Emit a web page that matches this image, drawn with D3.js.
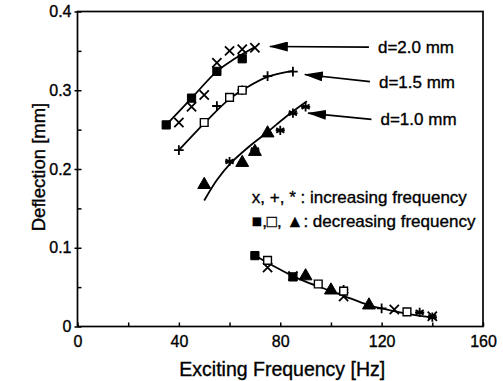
<!DOCTYPE html>
<html>
  <head>
    <meta charset="utf-8">
    <script src="https://d3js.org/d3.v7.min.js"></script>
    <title>Deflection vs Exciting Frequency</title>
    <style>
      body { margin: 0px; background: #fff; }
      text { font-family: "Liberation Sans", Arial, sans-serif; fill: #000; stroke: #000; stroke-width: 0.35px; }
    </style>
  </head>
  <body>
    <svg width="503" height="381"></svg>
    <script>
      // measured points [frequency Hz, deflection mm]
      const crosses = [[40, 0.259], [45, 0.279], [50, 0.294], [55, 0.335], [60, 0.350], [65, 0.352], [70, 0.354],
                       [75, 0.075], [85, 0.064], [105, 0.038], [125, 0.0215], [140, 0.013]];
      const pluses = [[40, 0.224], [55, 0.280], [65, 0.300], [75, 0.318], [85, 0.3236], [120, 0.023]];
      const stars = [[60, 0.2095], [70, 0.224], [80, 0.249], [85, 0.271], [90, 0.279],
                     [105, 0.047], [135, 0.018], [140, 0.012]];
      const filledSquares = [[35, 0.256], [45, 0.290], [55, 0.324], [65, 0.340], [70, 0.090], [85, 0.063]];
      const openSquares = [[50, 0.259], [60, 0.291], [65, 0.300], [75, 0.084], [95, 0.054], [105, 0.045], [130, 0.0186]];
      const triangles = [[50, 0.180], [65, 0.208], [70, 0.222], [75, 0.2455], [90, 0.064], [100, 0.046], [115, 0.027]];

      // fitted curves
      const fit20 = [[35, 0.256], [45, 0.290], [55, 0.324], [62, 0.340], [70, 0.355]];
      const fit15 = [[40, 0.224], [50, 0.258], [60, 0.289], [67, 0.304], [75, 0.317], [85, 0.3245]];
      const fit10 = [[50, 0.160], [55, 0.186], [60, 0.206], [67.5, 0.228], [75, 0.247], [82.5, 0.267], [90.5, 0.286]];
      const fitLow = [[69, 0.092], [75, 0.081], [85, 0.064], [90, 0.057], [100, 0.045], [105, 0.039],
                      [115, 0.027], [120, 0.023], [130, 0.016], [141, 0.011]];

      // arrow annotations: label, tail [f, d], tip [f, d]
      const arrowLabels = ['d=2.0 mm', 'd=1.5 mm', 'd=1.0 mm'];
      const arrowTails = [[115, 0.3547], [115.4, 0.311], [116, 0.263]];
      const arrowTips = [[75.9, 0.3556], [89.7, 0.320], [91, 0.271]];

      const legendLines = ['x, +, * : increasing frequency', '\u25A0,\u25A1, \u25B2: decreasing frequency'];
      const legendPos = [[68.8, 0.165], [68.8, 0.1335]];

      const xTicks = [0, 40, 80, 120, 160];
      const xMinor = d3.range(0, 161, 20);
      const yTicks = [0, 0.1, 0.2, 0.3, 0.4];
      const yMinor = d3.range(0, 0.41, 0.05);

      const margin = { left: 77.5, right: 20, top: 11.5, bottom: 54.5 };
      const svg = d3.select('svg');
      const width = +svg.attr('width');
      const height = +svg.attr('height');
      const innerWidth = width - margin.left - margin.right;
      const innerHeight = height - margin.top - margin.bottom;

      const g = svg.append('g')
          .attr('transform', `translate(${margin.left}, ${margin.top})`);

      const xScale = d3.scaleLinear().domain([0, 160]).range([0, innerWidth]);
      const yScale = d3.scaleLinear().domain([0, 0.4]).range([innerHeight, 0]);

      // frame
      g.append('rect')
        .attr('width', innerWidth).attr('height', innerHeight)
        .attr('fill', 'none').attr('stroke', '#000').attr('stroke-width', 1.7);

      // minor inward ticks
      g.append('g').attr('transform', `translate(0, ${innerHeight})`)
        .call(d3.axisBottom(xScale).tickValues(xMinor).tickSize(-4).tickFormat(''))
        .call(a => { a.select('.domain').remove(); a.selectAll('text').remove(); });
      g.append('g')
        .call(d3.axisLeft(yScale).tickValues(yMinor).tickSize(-4).tickFormat(''))
        .call(a => { a.select('.domain').remove(); a.selectAll('text').remove(); });

      // labelled ticks
      const xAxisG = g.append('g').attr('transform', `translate(0, ${innerHeight})`)
        .call(d3.axisBottom(xScale).tickValues(xTicks).tickSize(0).tickPadding(9).tickFormat(d3.format('d')));
      const yAxisG = g.append('g')
        .call(d3.axisLeft(yScale).tickValues(yTicks).tickSize(3).tickPadding(3)
          .tickFormat(d => d === 0 ? '0' : d3.format('.1f')(d)));
      [xAxisG, yAxisG].forEach(a => {
        a.select('.domain').remove();
        a.selectAll('text').attr('font-size', 16).attr('font-family', '"Liberation Sans", Arial, sans-serif')
          .attr('fill', '#000');
      });
      g.selectAll('.tick line').attr('stroke', '#000').attr('stroke-width', 1.5);

      // curves
      const line = d3.line()
        .x(d => xScale(d[0]))
        .y(d => yScale(d[1]))
        .curve(d3.curveCatmullRom);
      [fit20, fit15, fit10, fitLow].forEach(f => {
        g.append('path').attr('d', line(f))
          .attr('fill', 'none').attr('stroke', '#000').attr('stroke-width', 1.8);
      });

      // marker shapes
      const crossPath = s => `M${-s},${-s}L${s},${s}M${-s},${s}L${s},${-s}`;
      const plusPath = s => `M${-s},0L${s},0M0,${-s}L0,${s}`;
      const starPath = s => {
        const k = s * 0.87, h = s * 0.5;
        return `M0,${-s}L0,${s}M${-k},${-h}L${k},${h}M${-k},${h}L${k},${-h}M${-s},0L${s},0`;
      };
      const markers = [
        { data: crosses, path: crossPath(4.6), fill: 'none', stroke: 1.8 },
        { data: pluses, path: plusPath(4.8), fill: 'none', stroke: 1.8 },
        { data: stars, path: starPath(4.6), fill: 'none', stroke: 1.8 },
        { data: filledSquares, path: d3.symbol(d3.symbolSquare, 68)(), fill: '#000', stroke: 1 },
        { data: openSquares, path: d3.symbol(d3.symbolSquare, 60)(), fill: '#fff', stroke: 1.4 },
        { data: triangles, path: d3.symbol(d3.symbolTriangle, 72)(), fill: '#000', stroke: 1 }
      ];
      markers.forEach(m => {
        g.append('g').selectAll('path').data(m.data)
          .enter().append('path')
            .attr('transform', d => `translate(${xScale(d[0])}, ${yScale(d[1])})`)
            .attr('d', m.path)
            .attr('fill', m.fill)
            .attr('stroke', '#000')
            .attr('stroke-width', m.stroke);
      });

      // arrows
      svg.append('defs').append('marker')
        .attr('id', 'head').attr('viewBox', '0 0 19 10')
        .attr('refX', 18).attr('refY', 5)
        .attr('markerUnits', 'userSpaceOnUse')
        .attr('markerWidth', 19).attr('markerHeight', 10)
        .attr('orient', 'auto')
        .append('path').attr('d', 'M0,0L19,5L0,10Z').attr('fill', '#000');

      arrowLabels.forEach((label, i) => {
        const t = arrowTails[i], p = arrowTips[i];
        g.append('line')
          .attr('x1', xScale(t[0])).attr('y1', yScale(t[1]))
          .attr('x2', xScale(p[0])).attr('y2', yScale(p[1]))
          .attr('stroke', '#000').attr('stroke-width', 1.6)
          .attr('marker-end', 'url(#head)');
        g.append('text')
          .attr('x', xScale(t[0]) + 9)
          .attr('y', yScale(t[1]))
          .attr('dy', '0.35em')
          .attr('font-size', 17)
          .text(label);
      });

      // legend
      legendLines.forEach((txt, i) => {
        g.append('text')
          .attr('x', xScale(legendPos[i][0]))
          .attr('y', yScale(legendPos[i][1]))
          .attr('dy', '0.35em')
          .attr('font-size', 17)
          .text(txt);
      });

      // axis titles
      svg.append('text')
        .attr('transform', `translate(${margin.left + innerWidth / 2 + 2}, ${height - 5})`)
        .style('text-anchor', 'middle')
        .attr('font-size', 19.5)
        .text('Exciting Frequency [Hz]');

      svg.append('text')
        .attr('transform', 'rotate(-90)')
        .attr('x', -167)
        .attr('y', 39)
        .attr('dy', '0.35em')
        .style('text-anchor', 'middle')
        .attr('font-size', 18.5)
        .text('Deflection [mm]');
    </script>
  </body>
</html>
